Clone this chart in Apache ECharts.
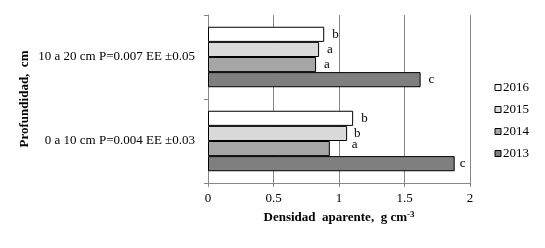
<!DOCTYPE html>
<html>
<head>
<meta charset="utf-8">
<script src="https://cdn.jsdelivr.net/npm/echarts@6/dist/echarts.min.js"></script>
<style>
  html, body { margin: 0; padding: 0; background: #fff; }
  #chart { width: 545px; height: 248px; }
</style>
</head>
<body>
<div id="chart"></div>
<script>
// categories, bottom to top
const depths = ['0 a 10 cm P=0.004 EE \u00b10.03', '10 a 20 cm P=0.007 EE \u00b10.05'];
const years = ['2016', '2015', '2014', '2013'];

// bulk density, g cm-3 (per year: [0-10 cm, 10-20 cm])
const d2016 = [1.108, 0.887];
const d2015 = [1.062, 0.848];
const d2014 = [0.93, 0.825];
const d2013 = [1.883, 1.623];

// significance letters
const l2016 = ['b', 'b'];
const l2015 = ['b', 'a'];
const l2014 = ['a', 'a'];
const l2013 = ['c', 'c'];

const xTicks = [0, 0.5, 1, 1.5, 2];

const serif = 'Liberation Serif';
const gray = '#878787';
const fills = { '2016': '#ffffff', '2015': '#d9d9d9', '2014': '#a6a6a6', '2013': '#7f7f7f' };
// small manual nudges of the letters, as placed in the original
const labelNudge = { '2015': [[-1, 0], [0, 0]], '2014': [[14, -4], [0, 0]], '2013': [[-3, 0], [0, 0]] };

const values = { '2016': d2016, '2015': d2015, '2014': d2014, '2013': d2013 };
const letters = { '2016': l2016, '2015': l2015, '2014': l2014, '2013': l2013 };

const series = years.map(y => ({
  name: y,
  type: 'bar',
  barGap: '0%',
  barCategoryGap: '28%',
  itemStyle: { color: fills[y], borderColor: '#000', borderWidth: 1 },
  label: {
    show: true,
    position: 'right',
    distance: 8,
    fontFamily: serif,
    fontSize: 13,
    color: '#000',
    formatter: p => letters[y][p.dataIndex]
  },
  data: values[y].map((v, i) => ({
    value: v,
    label: labelNudge[y] ? { offset: labelNudge[y][i] } : {}
  }))
}));

const chart = echarts.init(document.getElementById('chart'));
chart.setOption({
  animation: false,
  backgroundColor: '#fff',
  grid: { left: 208, right: 75, top: 15, bottom: 65 },
  legend: {
    data: years,
    orient: 'vertical',
    left: 494.5,
    top: 81,
    padding: 0,
    icon: 'rect',
    itemWidth: 6,
    itemHeight: 6,
    itemGap: 9,
    itemStyle: { borderColor: '#000', borderWidth: 1 },
    textStyle: { fontFamily: serif, fontSize: 13, color: '#000', lineHeight: 13, padding: [0, 0, 0, -3] }
  },
  xAxis: {
    type: 'value',
    min: xTicks[0],
    max: xTicks[xTicks.length - 1],
    interval: 0.5,
    axisLine: { show: true, lineStyle: { color: gray } },
    axisTick: { show: true, length: 4, lineStyle: { color: gray } },
    splitLine: { show: true, lineStyle: { color: gray } },
    axisLabel: { fontFamily: serif, fontSize: 13, color: '#000', margin: 9 },
    name: 'Densidad  aparente,  g cm{sup|-3}',
    nameLocation: 'middle',
    nameGap: 20,
    nameTextStyle: {
      fontFamily: serif, fontSize: 13, fontWeight: 'bold', color: '#000',
      rich: { sup: { fontFamily: serif, fontSize: 9, fontWeight: 'bold', color: '#000', verticalAlign: 'top', padding: [0, 0, 6, 0] } }
    }
  },
  yAxis: {
    type: 'category',
    data: depths,
    axisLine: { show: true, lineStyle: { color: gray } },
    axisTick: { show: true, length: 4, lineStyle: { color: gray } },
    axisLabel: { fontFamily: serif, fontSize: 13, color: '#000', margin: 13 },
    name: 'Profundidad,  cm',
    nameLocation: 'middle',
    nameRotate: 90,
    nameGap: 177,
    nameTextStyle: { fontFamily: serif, fontSize: 13, fontWeight: 'bold', color: '#000' }
  },
  series: series
});
</script>
</body>
</html>
